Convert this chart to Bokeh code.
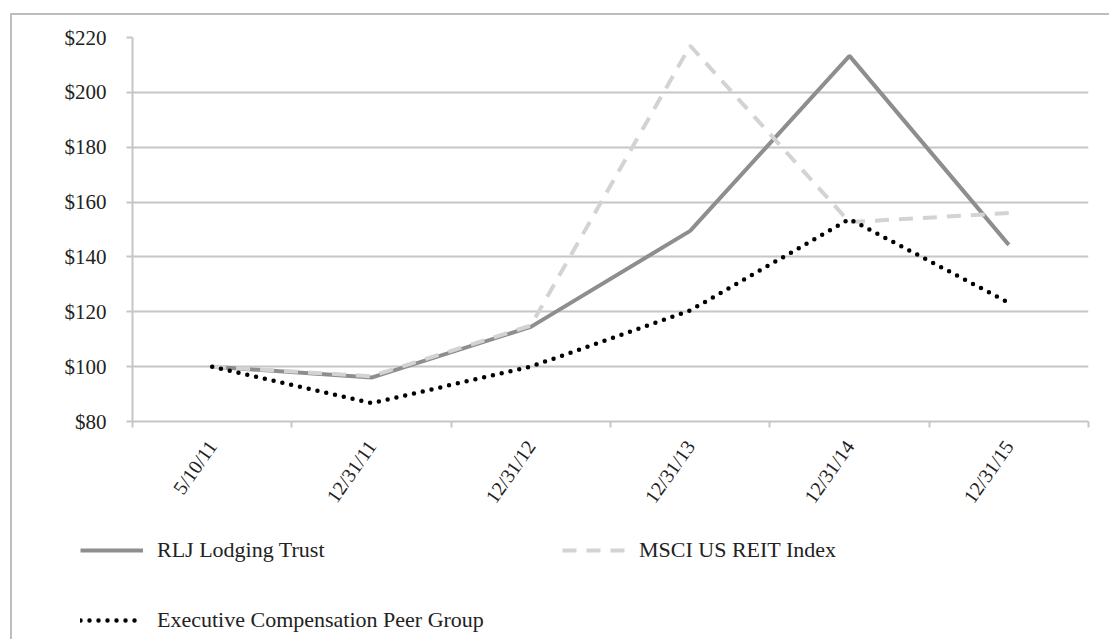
from math import radians
from bokeh.plotting import figure
from bokeh.models import Range1d, FixedTicker, NumeralTickFormatter, Legend, LegendItem
from bokeh.embed import file_html
from bokeh.resources import INLINE

# ---- data ----
categories = ["5/10/11", "12/31/11", "12/31/12", "12/31/13", "12/31/14", "12/31/15"]
rlj = [100, 96, 114.5, 149.5, 213.3, 144.4]
msci = [100, 96.5, 115, 217, 152.7, 156]
peer = [100, 86.7, 100, 120.5, 153.8, 123.3]
y_ticks = [80, 100, 120, 140, 160, 180, 200, 220]
series_names = ["RLJ Lodging Trust", "MSCI US REIT Index", "Executive Compensation Peer Group"]
series_values = [rlj, msci, peer]

FONT = "Liberation Serif"
GRID = "#c6c6c6"
FRAME = "#bdbdbd"
TXT = "#222222"

styles = [
    dict(line_color="#8e8e8e", line_width=4),
    dict(line_color="#d3d3d3", line_width=4, line_dash="14 10"),
    dict(line_color="#000000", line_width=4.5, line_dash="0 9", line_cap="round"),
]

n = len(categories)
centers = [i + 0.5 for i in range(n)]
bounds = [float(i) for i in range(n + 1)]

W = 1109
p = figure(width=W, height=520, output_backend="svg", toolbar_location=None,
           x_range=Range1d(0, n), y_range=Range1d(y_ticks[0], y_ticks[-1]),
           min_border_left=132, min_border_right=21, min_border_top=37, min_border_bottom=99)
# outer chart frame: left and top edges only
p.styles = {"box-shadow": f"inset 10px 13px 0 0 #ffffff, inset 12px 15px 0 0 {FRAME}"}
p.outline_line_color = None
p.background_fill_color = "white"
p.border_fill_alpha = 0

# x axis: labels at category centres, ticks on category boundaries
xa = p.xaxis[0]
xa.ticker = FixedTicker(ticks=centers, minor_ticks=bounds)
xa.major_label_overrides = {c: lab for c, lab in zip(centers, categories)}
xa.major_tick_out = 0
xa.major_tick_in = 0
xa.minor_tick_out = 6
xa.minor_tick_in = 0
xa.minor_tick_line_color = GRID
xa.minor_tick_line_width = 2
xa.axis_line_color = GRID
xa.axis_line_width = 2
xa.major_label_orientation = radians(55)
xa.major_label_standoff = 15
xa.major_label_text_font = FONT
xa.major_label_text_font_size = "20px"
xa.major_label_text_color = TXT

ya = p.yaxis[0]
ya.ticker = FixedTicker(ticks=y_ticks)
ya.formatter = NumeralTickFormatter(format="$0")
ya.major_tick_out = 6
ya.major_tick_in = 0
ya.minor_tick_out = 0
ya.minor_tick_in = 0
ya.major_tick_line_color = GRID
ya.major_tick_line_width = 2
ya.axis_line_color = GRID
ya.axis_line_width = 2
ya.major_label_standoff = 20
ya.major_label_text_font = FONT
ya.major_label_text_font_size = "21px"
ya.major_label_text_color = TXT

p.xgrid.grid_line_color = None
p.ygrid.grid_line_color = GRID
p.ygrid.grid_line_width = 2

for vals, st in zip(series_values, styles):
    p.line(centers, vals, **st)

# ---- legend strip below the chart ----
p2 = figure(width=W, height=119, output_backend="svg", toolbar_location=None,
            x_range=Range1d(0, n), y_range=Range1d(0, 1),
            x_axis_location=None, y_axis_location=None,
            min_border_left=0, min_border_right=0, min_border_top=0, min_border_bottom=0)
p2.styles = {"box-shadow": f"inset 10px 0 0 0 #ffffff, inset 12px 0 0 0 {FRAME}"}
p2.outline_line_color = None
p2.xgrid.grid_line_color = None
p2.ygrid.grid_line_color = None
p2.background_fill_alpha = 0
p2.border_fill_alpha = 0

# same series, lying outside this strip's y range: only their legend swatches show
leg_r = [p2.line(centers, vals, **st) for vals, st in zip(series_values, styles)]

legend = Legend(
    items=[LegendItem(label=series_names[0], renderers=[leg_r[0]]),
           LegendItem(label=series_names[2], renderers=[leg_r[2]]),
           LegendItem(label=series_names[1], renderers=[leg_r[1]])],
    location=(80, 6), ncols=2, orientation="vertical",
    glyph_width=63, glyph_height=24, label_height=24, label_width=361,
    label_standoff=14, spacing=44, padding=0, margin=0,
    border_line_color=None, background_fill_alpha=0,
    label_text_font=FONT, label_text_font_size="22px", label_text_color=TXT,
)
p2.add_layout(legend)

open("out.html", "w").write(file_html([p, p2], INLINE))
